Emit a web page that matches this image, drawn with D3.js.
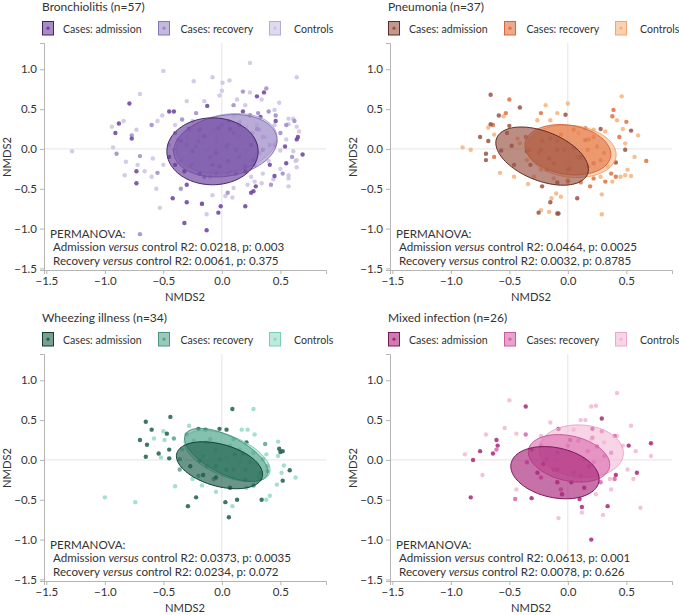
<!DOCTYPE html>
<html><head><meta charset="utf-8">
<script src="https://cdn.jsdelivr.net/npm/d3@7"></script>
<style>
body{margin:0;background:#fff}
text{font-family:Lato,"Noto Sans",sans-serif;fill:#333}
</style>
</head><body><svg id="c" width="679" height="615"></svg>
<script>
// ---------- data ----------
const groups = ["Cases: admission", "Cases: recovery", "Controls"];
const panelTitles = ["Bronchiolitis (n=57)", "Pneumonia (n=37)", "Wheezing illness (n=34)", "Mixed infection (n=26)"];
const xTicks = [-1.5, -1.0, -0.5, 0.0, 0.5];
const yTicks = [-1.5, -1.0, -0.5, 0.0, 0.5, 1.0];
const r2Adm = ["0.0218", "0.0464", "0.0373", "0.0613"];
const pAdm  = ["0.003", "0.0025", "0.0035", "0.001"];
const r2Rec = ["0.0061", "0.0032", "0.0234", "0.0078"];
const pRec  = ["0.375", "0.8785", "0.072", "0.626"];

// Bronchiolitis points [NMDS1, NMDS2]
const bronchAdm = [[0.36,0.71],[0.3,0.66],[-0.125,0.54],[-0.79,0.57],[-0.45,0.47],[-0.41,0.47],[0.46,0.35],[-0.88,0.32],[-0.91,0.2],[-0.77,0.13],[-0.73,-0.28],[-0.73,-0.43],[-0.42,-0.62],[-0.32,-0.93],[-0.3,-0.67],[-0.17,-0.69],[-0.13,-1.02],[-0.03,-0.8],[-0.01,-0.72],[0.2,-0.72],[0.29,-0.47],[0.27,-0.53],[0.25,-0.55],[0.41,-0.2],[0.45,-0.34],[0.55,-0.18],[0.54,0.03],[0.64,0.12],[0.65,0.15],[0.69,-0.07],[0.24,0.42],[0.18,0.47],[-0.19,0.24],[-0.25,-0.03],[-0.35,0.1],[-0.4,-0.2],[-0.03,0.26],[-0.05,-0.05],[0.05,-0.15],[0.07,0.25],[0.2,-0.28],[-0.19,-0.31],[-0.32,-0.28],[-0.15,0.16],[0.35,-0.01],[0.27,-0.14],[0.2,-0.22],[-0.02,-0.22],[0.25,0.05],[0.3,0.25],[-0.45,-0.1],[0.15,0.3],[-0.28,0.25],[-0.08,-0.2],[0.06,0.35],[-0.3,-0.45],[0.33,0.4]];
const bronchRec = [[0.18,0.72],[0.38,0.76],[-0.34,0.37],[0.4,0.47],[0.46,0.42],[-0.77,0.17],[-0.9,-0.06],[-0.7,-0.09],[-0.7,-1.07],[0.52,-0.31],[0.31,0.45],[-0.2,0.1],[0.05,0.05],[0.15,-0.1],[0.26,0.2],[-0.1,-0.1],[0.35,0.15],[-0.3,0.05],[0.0,0.3],[-0.05,-0.3],[0.15,0.34],[0.32,0.24],[0.45,0.05],[-0.15,-0.35],[0.12,-0.31],[0.28,-0.2],[-0.4,0.2],[0.55,0.3],[0.6,-0.1],[-0.55,-0.3],[0.1,0.55],[-0.22,0.45],[0.42,-0.45],[0.5,0.2],[-0.6,0.3],[0.32,-0.05],[0.05,-0.55],[-0.35,-0.5],[0.62,0.35],[-0.37,0.11],[0.1,0.2],[-0.22,0.03],[0.12,-0.01],[-0.26,-0.2],[0.41,0.05],[0.04,0.03]];
const bronchCtl = [[0.24,1.08],[-0.5,0.98],[-0.08,0.9],[0.065,0.86],[-0.24,0.85],[0.64,0.9],[0.006,0.83],[-0.7,0.69],[0,0.73],[0.24,0.71],[0.13,0.62],[-0.02,0.67],[0.34,0.62],[0.49,0.58],[0.45,0.49],[-0.51,0.42],[-0.55,0.35],[0.57,0.38],[0.61,0.38],[0.57,0.31],[0.64,0.28],[0.66,0.22],[-0.84,0.35],[-0.94,0.28],[-0.73,0.24],[-1.28,-0.03],[-0.93,0.02],[-0.82,-0.16],[-0.72,-0.2],[-0.83,-0.33],[-0.66,-0.28],[-0.6,-0.35],[-0.59,-0.12],[-0.56,-0.5],[-0.53,-0.74],[-0.17,-0.68],[-0.13,-0.82],[-0.08,-0.58],[0.03,-0.59],[0.1,-0.49],[0.09,-0.61],[0.22,-0.45],[0.28,-0.41],[0.35,-0.31],[0.34,-0.43],[0.44,-0.38],[0.57,-0.33],[0.57,-0.37],[0.57,-0.47],[0.64,-0.23],[0.63,-0.15],[0.5,-0.02],[0.61,-0.03],[0.64,-0.14],[0.46,0.09],[0.55,0.12],[-0.25,0.35],[0.15,0.15],[-0.05,0.1],[0.3,-0.1],[-0.35,-0.15],[0.05,-0.3],[0.3,0.3],[-0.45,0.05],[0.2,0.55],[-0.3,0.6],[0.4,-0.15],[-0.15,0.6],[0.21,0.28],[0.37,0.15],[-0.1,-0.35],[-0.34,-0.14],[-0.41,-0.01],[-0.3,0.15],[-0.13,-0.01],[-0.05,-0.01],[0.21,-0.01],[0.07,-0.28],[-0.07,0.24],[0.1,0.42],[-0.4,0.3],[0.5,-0.25],[0.45,0.3],[-0.5,-0.2],[0.25,-0.35]];

// Pneumonia points
const pneuAdm = [[-0.66,0.68],[-0.66,0.31],[-0.59,0.42],[-0.41,0.52],[-0.75,0.15],[-0.68,0.1],[-0.7,-0.14],[-0.7,-0.06],[-0.5,0.29],[-0.52,0.2],[-0.48,0.04],[-0.57,-0.02],[-0.32,-0.2],[-0.22,-0.47],[-0.15,-0.67],[-0.09,-0.81],[-0.08,-0.81],[-0.25,-0.8],[-0.22,0.1],[-0.15,0.13],[-0.09,-0.01],[-0.02,0.43],[-0.09,-0.42],[0,-0.26],[0.08,-0.62],[0.11,-0.1],[0.28,0.25],[0.41,-0.17],[0.49,-0.01],[0.54,0.23],[-0.23,-0.01],[-0.16,-0.12],[-0.35,-0.03],[-0.46,-0.2],[0.05,0.01],[0.15,0.11],[0.22,-0.18]];
const pneuRec = [[-0.5,0.62],[-0.53,0.45],[-0.64,0.3],[-0.63,-0.1],[0.39,0.49],[0.38,0.41],[0.5,0.34],[0.67,-0.15],[0.18,0.12],[0.22,0.15],[0.25,0.03],[0.11,-0.12],[0.17,-0.22],[0.28,-0.14],[0.19,-0.47],[0.11,-0.42],[0.32,-0.41],[0.41,-0.35],[0.37,-0.31],[0.05,0.24],[-0.06,0.18],[-0.12,-0.18],[-0.25,-0.05],[0.08,-0.1],[0,-0.41],[-0.23,0.45],[-0.36,0.15],[-0.18,-0.26],[-0.03,-0.01],[0.22,-0.37],[0.17,-0.01],[0.44,0.15],[0.31,-0.05],[-0.09,0.11],[0.02,-0.24],[-0.33,-0.01],[0.15,0.26]];
const pneuCtl = [[-0.9,0.02],[-0.83,-0.01],[-0.68,0.27],[-0.63,0.18],[-0.58,-0.3],[-0.43,0.13],[-0.19,0.55],[0,0.57],[-0.09,0.45],[-0.15,0.36],[-0.26,0.36],[-0.34,-0.44],[-0.23,-0.77],[-0.16,-0.79],[-0.14,-0.62],[-0.1,-0.56],[-0.06,-0.6],[0.29,-0.82],[0.29,-0.57],[0.46,0.66],[0.42,0.36],[0.47,0.25],[0.6,0.17],[0.49,0.07],[0.57,-0.1],[0.51,-0.26],[0.54,-0.34],[0.49,-0.33],[0.45,-0.35],[0.38,-0.41],[0.28,-0.35],[0.34,-0.22],[-0.23,-0.26],[-0.29,-0.35],[-0.35,-0.14],[-0.41,0.07],[0.22,0.24],[0.32,0.22],[0.09,0.2],[0,-0.39],[-0.12,-0.37],[-0.46,-0.35],[-0.55,0.41]];

// Wheezing illness points
const wheezeAdm = [[0.09,0.64],[-0.44,0.54],[-0.65,0.48],[-0.6,0.38],[-0.7,0.25],[-0.64,0.19],[-0.65,0.04],[-0.47,0.33],[-0.54,0.08],[-0.45,0.02],[-0.45,0.13],[-0.2,0.39],[-0.14,0.38],[-0.02,0.39],[0.04,0.38],[0.21,0.22],[0.18,0.08],[0.11,0.07],[0.49,0.14],[0.5,0.1],[0.52,0.11],[0.58,-0.13],[0.52,-0.26],[0.39,-0.14],[0.33,-0.16],[0.34,-0.5],[0.13,-0.5],[0.03,-0.53],[0.06,-0.72],[-0.22,-0.47],[-0.29,-0.58],[-0.16,-0.19],[-0.05,-0.22],[0.07,-0.35],[0.2,-0.25],[-0.19,-0.01],[-0.05,-0.08],[0.04,-0.12],[-0.27,-0.08]];
const wheezeRec = [[-0.3,0.32],[-0.24,0.24],[-0.13,0.22],[-0.05,0.13],[0.1,0.26],[0.15,0.13],[0.27,0.09],[0.35,0.01],[0.24,-0.03],[0.1,-0.12],[-0.07,-0.24],[-0.16,0.05],[-0.36,0.01],[-0.13,-0.08],[0.27,-0.32],[0.32,-0.22],[0.39,-0.08],[-0.02,0.01],[-0.2,-0.2],[0.2,-0.12],[0.07,0.18],[-0.1,0.26],[0.37,0.2],[-0.36,-0.12],[-0.41,0.27]];
const wheezeCtl = [[-1.0,-0.47],[-0.74,-0.53],[-0.58,0.27],[-0.5,0.36],[-0.49,0.25],[-0.52,0.03],[-0.4,-0.33],[-0.28,0.43],[0.27,0.64],[0.17,0.38],[0.22,0.38],[0.28,0.32],[0.48,0.23],[0.48,0.05],[0.53,-0.07],[0.51,-0.16],[0.63,-0.22],[0.47,-0.31],[0.41,-0.45],[0.38,-0.5],[0.27,-0.32],[0.21,-0.35],[0.1,-0.23],[0.09,-0.58],[-0.05,-0.4],[-0.17,-0.32],[-0.25,-0.24],[-0.34,0.13],[0.04,0.03],[0.15,-0.03],[0.38,0.07],[0.3,-0.03]];

// Mixed infection points
const mixedAdm = [[-0.36,0.67],[-0.61,0.25],[-0.6,0.18],[-0.64,0.08],[-0.75,0.11],[-0.81,0],[-0.83,-0.47],[-0.31,0.13],[-0.31,-0.48],[-0.08,0.39],[0.02,0.25],[0.21,0.39],[0.29,0.52],[0.25,0.17],[0.71,0.21],[0.52,0.18],[0.59,-0.16],[0.41,-0.19],[0.34,-0.58],[0.12,-0.59],[0.1,-0.49],[0.14,-0.35],[-0.05,-0.43],[-0.09,-0.28],[0.03,-0.28],[0.2,-1.0],[-0.26,-0.16],[-0.21,-0.05],[0.18,-0.08],[-0.09,-0.12]];
const mixedRec = [[-0.36,0.32],[-0.61,0.13],[0.09,0.24],[0.14,0.01],[0.22,-0.03],[-0.09,0.09],[-0.18,0.01],[-0.23,-0.22],[0.05,-0.16],[0.31,0.05],[0.28,-0.28],[0.4,-0.24],[0.21,0.28],[0,0.18],[-0.35,-0.03],[-0.12,-0.12],[0.29,0.36],[0.4,0.3],[-0.45,-0.49],[0.11,-0.2],[0.17,0.11],[-0.23,0.18],[-0.06,-0.37],[0.37,0.09]];
const mixedCtl = [[-0.5,0.75],[0.42,0.84],[0.2,0.67],[0.24,0.68],[-0.15,0.47],[0.11,0.5],[0.15,0.5],[0.54,0.43],[0.42,0.3],[0.47,0.18],[0.58,0.11],[0.71,0.05],[0.51,-0.12],[0.56,-0.24],[0.62,-0.6],[0.37,-0.37],[0.36,-0.24],[0.24,-0.43],[0.12,-0.66],[0.3,-0.69],[-0.08,-0.73],[-0.44,0.33],[-0.54,0.4],[-0.7,0.32],[-0.88,0.07],[-0.73,-0.19],[-0.44,-0.37],[-0.23,0.3],[0.2,0.26],[0.31,0.22],[0.05,0.38],[-0.11,-0.01],[0.11,0.01]];

// 95% ellipses: [centerX, centerY, semiAxisA, semiAxisB, rotationDeg] in NMDS units
const bronchEll = [[-0.08,-0.03,0.39,0.42,0],[0.03,0.04,0.46,0.37,28],[0.04,0.07,0.45,0.35,28]];
const pneuEll   = [[-0.22,-0.09,0.46,0.28,-40],[0.0,-0.01,0.38,0.30,-25],[0.03,-0.03,0.39,0.32,-20]];
const wheezeEll = [[-0.02,-0.067,0.40,0.25,-30],[0.037,0.063,0.44,0.21,-42],[0.045,0.05,0.43,0.23,-38]];
const mixedEll  = [[-0.11,-0.16,0.40,0.30,-30],[0.01,0.02,0.37,0.27,-30],[0.115,0.11,0.364,0.325,-20]];

// colours per panel: [admission, recovery, controls]
const bronchCols = ["#6b3f9c", "#9d88c8", "#cbc2e4"];
const pneuCols   = ["#995243", "#e2703f", "#f7b27d"];
const wheezeCols = ["#1f5e4a", "#58a38e", "#93dac6"];
const mixedCols  = ["#a8277a", "#d865aa", "#f2b7d5"];
const bronchStroke = ["#452566", "#8874b8", "#b5a9d6"];
const pneuStroke   = ["#5e2c20", "#d4683a", "#f2a472"];
const wheezeStroke = ["#123f31", "#4b9480", "#7ccdb6"];
const mixedStroke  = ["#7a1658", "#cc5a9c", "#eca8ca"];
const fillOpacity  = [0.66, 0.58, 0.58];

// ---------- drawing ----------
const panels = [
  {pts:[bronchAdm,bronchRec,bronchCtl], ell:bronchEll, cols:bronchCols, strk:bronchStroke},
  {pts:[pneuAdm,pneuRec,pneuCtl], ell:pneuEll, cols:pneuCols, strk:pneuStroke},
  {pts:[wheezeAdm,wheezeRec,wheezeCtl], ell:wheezeEll, cols:wheezeCols, strk:wheezeStroke},
  {pts:[mixedAdm,mixedRec,mixedCtl], ell:mixedEll, cols:mixedCols, strk:mixedStroke}
];
const svg = d3.select("#c");
const fmt = d3.format(".1f");

panels.forEach((p, i) => {
  const ox = (i % 2) * 346, oy = Math.floor(i / 2) * 311;
  const g = svg.append("g").attr("transform", `translate(${ox},${oy})`);
  const x = d3.scaleLinear().domain([-1.52, 0.89]).range([44, 326]);
  const y = d3.scaleLinear().domain([-1.52, 1.33]).range([270, 43]);

  // title
  g.append("text").attr("x", 42).attr("y", 10.5).attr("font-size", 12).text(panelTitles[i]);

  // legend
  const lx = [42, 158, 269];
  const tx = [63, 180.5, 294];
  groups.forEach((name, k) => {
    const lg = g.append("g");
    lg.append("rect").attr("x", lx[k] + 0.5).attr("y", 21.5).attr("width", 11).attr("height", 13.5)
      .attr("fill", p.cols[k]).attr("fill-opacity", 0.6).attr("stroke", p.strk[k]).attr("stroke-width", 1);
    lg.append("circle").attr("cx", lx[k] + 6).attr("cy", 28.2).attr("r", 1.6).attr("fill", p.cols[k]);
    lg.append("text").attr("x", tx[k]).attr("y", 33).attr("font-size", 10.6).text(name);
  });

  // zero lines
  g.append("line").attr("x1", x(0)).attr("x2", x(0)).attr("y1", 43).attr("y2", 270).attr("stroke", "#e4e4e4");
  g.append("line").attr("x1", 44).attr("x2", 326).attr("y1", y(0)).attr("y2", y(0)).attr("stroke", "#e4e4e4");

  // axes
  const xa = g.append("g").attr("transform", "translate(0,270)")
    .call(d3.axisBottom(x).tickValues(xTicks).tickFormat(fmt).tickSizeOuter(0).tickSize(4).tickPadding(3));
  const ya = g.append("g").attr("transform", "translate(44,0)")
    .call(d3.axisLeft(y).tickValues(yTicks).tickFormat(fmt).tickSizeOuter(0).tickSize(4).tickPadding(3));
  [xa, ya].forEach(a => {
    a.select(".domain").attr("stroke", "#b5b5b5");
    a.selectAll(".tick line").attr("stroke", "#b5b5b5");
    a.selectAll(".tick text").attr("fill", "#333").attr("font-size", 11.5).attr("font-family", "Lato,'Noto Sans',sans-serif");
  });
  g.append("text").attr("x", 185).attr("y", 301).attr("text-anchor", "middle").attr("font-size", 11.2).text("NMDS2");
  g.append("text").attr("transform", "translate(10.5,157) rotate(-90)").attr("text-anchor", "middle").attr("font-size", 11.2).text("NMDS2");

  // ellipses
  const ellPath = e => {
    const [cx, cy, a, b, deg] = e;
    const th = deg * Math.PI / 180;
    const pts = d3.range(0, 101).map(j => {
      const t = j / 100 * 2 * Math.PI;
      return [x(cx + a * Math.cos(th) * Math.cos(t) - b * Math.sin(th) * Math.sin(t)),
              y(cy + a * Math.sin(th) * Math.cos(t) + b * Math.cos(th) * Math.sin(t))];
    });
    return d3.line()(pts) + "Z";
  };
  // points
  [2, 1, 0].forEach(k => {
    g.append("g").selectAll("circle").data(p.pts[k]).join("circle")
      .attr("cx", d => x(d[0])).attr("cy", d => y(d[1])).attr("r", 2.2)
      .attr("fill", p.cols[k]).attr("fill-opacity", 0.85);
  });
  [2, 1, 0].forEach(k => {
    g.append("path").attr("d", ellPath(p.ell[k]))
      .attr("fill", p.cols[k]).attr("fill-opacity", fillOpacity[k])
      .attr("stroke", p.strk[k]).attr("stroke-width", 1);
  });

  // PERMANOVA annotation
  const t = g.append("g").attr("font-size", 11.6);
  t.append("text").attr("x", 50).attr("y", 237.5).text("PERMANOVA:");
  const l2 = t.append("text").attr("x", 53).attr("y", 251);
  l2.append("tspan").text("Admission ");
  l2.append("tspan").attr("font-style", "italic").text("versus");
  l2.append("tspan").text(` control R2: ${r2Adm[i]}, p: ${pAdm[i]}`);
  const l3 = t.append("text").attr("x", 53).attr("y", 264.5);
  l3.append("tspan").text("Recovery ");
  l3.append("tspan").attr("font-style", "italic").text("versus");
  l3.append("tspan").text(` control R2: ${r2Rec[i]}, p: ${pRec[i]}`);
});
</script>
</body></html>
